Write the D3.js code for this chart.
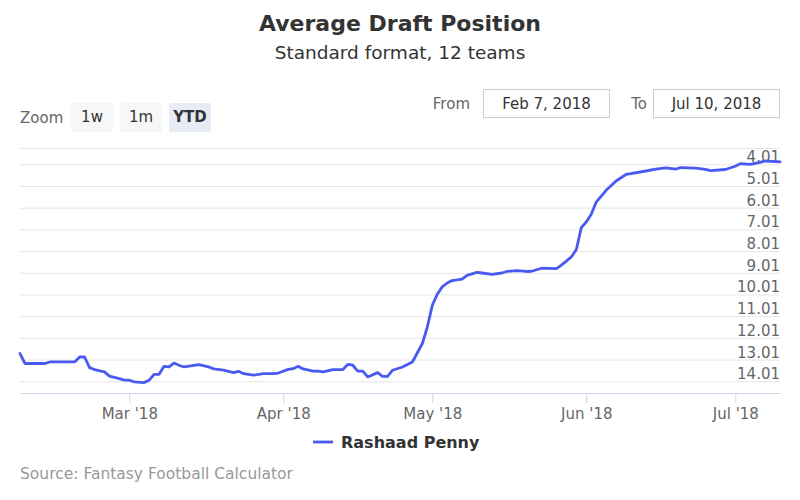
<!DOCTYPE html>
<html>
<head>
<meta charset="utf-8">
<script src="https://cdn.jsdelivr.net/npm/d3@7"></script>
<style>
  body { margin: 0; background: #fff; }
  svg { font-family: "DejaVu Sans", sans-serif; display: block; }
</style>
</head>
<body>
<svg width="800" height="500"></svg>
<script>
// ADP for Rashaad Penny
var dates = ["2018-02-07","2018-02-08","2018-02-12","2018-02-13","2018-02-18","2018-02-19","2018-02-20",
  "2018-02-21","2018-02-22","2018-02-24","2018-02-25","2018-02-27","2018-02-28","2018-03-01","2018-03-02",
  "2018-03-04","2018-03-05","2018-03-06","2018-03-07","2018-03-08","2018-03-09","2018-03-10","2018-03-11",
  "2018-03-12","2018-03-15","2018-03-17","2018-03-18","2018-03-20","2018-03-22","2018-03-23","2018-03-24",
  "2018-03-26","2018-03-28","2018-03-30","2018-03-31","2018-04-02","2018-04-03","2018-04-04","2018-04-05",
  "2018-04-07","2018-04-08","2018-04-09","2018-04-11","2018-04-13","2018-04-14","2018-04-15","2018-04-16",
  "2018-04-17","2018-04-18","2018-04-20","2018-04-21","2018-04-22","2018-04-23","2018-04-25","2018-04-27",
  "2018-04-29","2018-04-30","2018-05-01","2018-05-02","2018-05-03","2018-05-04","2018-05-05","2018-05-07",
  "2018-05-08","2018-05-10","2018-05-11","2018-05-13","2018-05-15","2018-05-16","2018-05-18","2018-05-20",
  "2018-05-21","2018-05-23","2018-05-26","2018-05-27","2018-05-29","2018-05-30","2018-05-31","2018-06-01",
  "2018-06-02","2018-06-03","2018-06-05","2018-06-07","2018-06-09","2018-06-10","2018-06-13","2018-06-15",
  "2018-06-17","2018-06-19","2018-06-20","2018-06-23","2018-06-25","2018-06-26","2018-06-29","2018-07-01",
  "2018-07-02","2018-07-04","2018-07-06","2018-07-07","2018-07-10"];
var adp = [12.73,13.19,13.19,13.12,13.12,12.89,12.89,
  13.38,13.47,13.58,13.77,13.89,13.96,13.96,14.04,
  14.07,13.96,13.69,13.69,13.32,13.35,13.17,13.27,
  13.35,13.24,13.35,13.44,13.50,13.61,13.55,13.66,
  13.73,13.66,13.66,13.63,13.46,13.43,13.32,13.44,
  13.54,13.54,13.58,13.47,13.47,13.23,13.27,13.54,
  13.54,13.81,13.61,13.78,13.78,13.50,13.35,13.12,
  12.27,11.51,10.51,10.00,9.66,9.48,9.37,9.30,
  9.13,8.99,9.02,9.08,9.02,8.95,8.91,8.95,
  8.94,8.80,8.82,8.66,8.28,7.94,6.93,6.67,
  6.31,5.75,5.21,4.78,4.48,4.44,4.32,4.23,
  4.18,4.23,4.16,4.19,4.25,4.30,4.25,4.10,
  3.98,4.01,3.92,3.86,3.90];
var yTicks = [4.01,5.01,6.01,7.01,8.01,9.01,10.01,11.01,12.01,13.01,14.01];
var xTicks = ["2018-03-01","2018-04-01","2018-05-01","2018-06-01","2018-07-01"];
var zoomButtons = ["1w", "1m", "YTD"];
var seriesName = "Rashaad Penny";
var fromLabel = "Feb 7, 2018", toLabel = "Jul 10, 2018";

var parse = d3.timeParse("%Y-%m-%d");
var data = dates.map(function(d, i) { return {date: parse(d), adp: adp[i]}; });

var svg = d3.select("svg"),
  plotLeft = 20, plotRight = 780, plotTop = 148, plotBottom = 393;

var x = d3.scaleTime()
  .domain([parse("2018-02-07"), parse("2018-07-10")])
  .range([plotLeft, plotRight]);

var y = d3.scaleLinear()
  .domain([3.26, 14.55])
  .range([plotTop, plotBottom]);

// title
svg.append("text").attr("x", 400).attr("y", 31).attr("text-anchor", "middle")
  .attr("font-size", 22).attr("font-weight", "bold").attr("fill", "#333")
  .text("Average Draft Position");
svg.append("text").attr("x", 400).attr("y", 59).attr("text-anchor", "middle")
  .attr("font-size", 18.5).attr("fill", "#333")
  .text("Standard format, 12 teams");

// range selector
svg.append("text").attr("x", 20).attr("y", 123).attr("font-size", 15).attr("fill", "#666").text("Zoom");
var btn = svg.selectAll(".btn").data(zoomButtons).enter().append("g")
  .attr("class", "btn")
  .attr("transform", function(d, i) { return "translate(" + (71 + i * 49) + ",103)"; });
btn.append("rect").attr("width", 42).attr("height", 29).attr("rx", 2)
  .attr("fill", function(d) { return d == "YTD" ? "#e6ebf5" : "#f7f7f7"; });
btn.append("text").attr("x", 21).attr("y", 19).attr("text-anchor", "middle")
  .attr("font-size", 15).attr("fill", "#333")
  .attr("font-weight", function(d) { return d == "YTD" ? "bold" : "normal"; })
  .text(function(d) { return d; });

svg.append("text").attr("x", 470).attr("y", 109).attr("text-anchor", "end")
  .attr("font-size", 15).attr("fill", "#666").text("From");
svg.append("text").attr("x", 647).attr("y", 109).attr("text-anchor", "end")
  .attr("font-size", 15).attr("fill", "#666").text("To");
[[483.5, fromLabel], [653.5, toLabel]].forEach(function(b) {
  svg.append("rect").attr("x", b[0]).attr("y", 89.5).attr("width", 126).attr("height", 28)
    .attr("fill", "#fff").attr("stroke", "#ccc");
  svg.append("text").attr("x", b[0] + 63).attr("y", 109).attr("text-anchor", "middle")
    .attr("font-size", 15).attr("fill", "#333").text(b[1]);
});

// y axis + grid
svg.append("line").attr("x1", plotLeft).attr("x2", plotRight)
  .attr("y1", plotTop + 0.5).attr("y2", plotTop + 0.5)
  .attr("stroke", "#e6e6e6");
var gy = svg.append("g")
  .attr("transform", "translate(" + plotRight + ",0)")
  .call(d3.axisLeft(y).tickValues(yTicks).tickSize(plotRight - plotLeft).tickFormat(d3.format(".2f")));
gy.select(".domain").remove();
gy.selectAll("line").attr("stroke", "#e6e6e6");
gy.selectAll("text").attr("x", 0).attr("dy", -2.5).attr("font-size", 15)
  .attr("fill", "#666").attr("font-family", "DejaVu Sans, sans-serif");

// x axis
var gx = svg.append("g")
  .attr("transform", "translate(0," + plotBottom + ")")
  .call(d3.axisBottom(x).tickValues(xTicks.map(parse)).tickSize(10).tickSizeOuter(0)
    .tickFormat(d3.timeFormat("%b '%y")));
gx.select(".domain").attr("stroke", "#ccd6eb");
gx.selectAll("line").attr("stroke", "#ccd6eb");
gx.selectAll("text").attr("y", 15.5).attr("font-size", 15)
  .attr("fill", "#666").attr("font-family", "DejaVu Sans, sans-serif");

// series
var line = d3.line()
  .x(function(d) { return x(d.date); })
  .y(function(d) { return y(d.adp); });

svg.append("path")
  .datum(data)
  .attr("fill", "none")
  .attr("stroke", "#4a5af0")
  .attr("stroke-width", 2.8)
  .attr("stroke-linejoin", "round")
  .attr("stroke-linecap", "round")
  .attr("d", line);

// legend
svg.append("line").attr("x1", 313).attr("x2", 333).attr("y1", 442).attr("y2", 442)
  .attr("stroke", "#4a5af0").attr("stroke-width", 2.8);
svg.append("text").attr("x", 341).attr("y", 448).attr("font-size", 16).attr("font-weight", "bold")
  .attr("fill", "#333").text(seriesName);

// credits
svg.append("text").attr("x", 20).attr("y", 479).attr("font-size", 15.5).attr("fill", "#999")
  .text("Source: Fantasy Football Calculator");
</script>
</body>
</html>
